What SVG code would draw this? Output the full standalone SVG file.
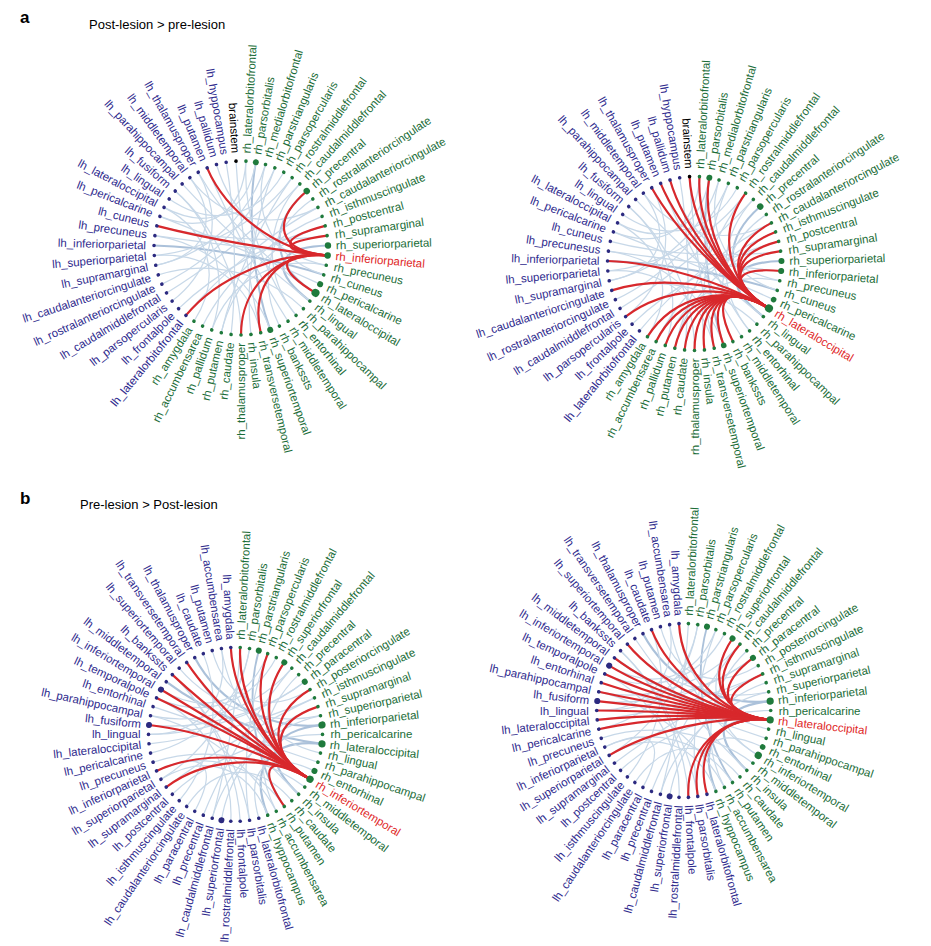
<svg xmlns="http://www.w3.org/2000/svg" xmlns:xlink="http://www.w3.org/1999/xlink" width="931" height="946" viewBox="0 0 931 946">
<style>
text{font-family:"Liberation Sans",Arial,Helvetica,sans-serif;fill:#000}
.lh text,.rh text,.bs text{font-size:11.5px;dominant-baseline:central}
.L text{text-anchor:end}
.lh text{fill:#2f2b8e}
.lh circle{fill:#2c2a80}
.rh text{fill:#1b6d38}
.rh circle{fill:#1f7a3c}
.bs circle{fill:#000}
.hl text{fill:#e0261f}
.red path{fill:none;stroke:#d8282c;stroke-width:2.2;stroke-linecap:round}
.ttl{font-size:13px}
.pl{font-size:17px;font-weight:bold}
</style>
<defs>
<g id="blueA" fill="none" stroke="#a3bfda" stroke-width="1.2" opacity="0.6">
<path d="M14.8 -85.7C5.9 -34.3 11.7 32.8 29.2 81.9" stroke="#7499c2" stroke-width="2"/>
<path d="M65.8 -57C26.3 -22.8 29.8 18 74.5 44.9" stroke="#7499c2" stroke-width="2"/>
<path d="M87 -2.5C34.8 -1 27.6 21.3 68.9 53.1" stroke="#7499c2" stroke-width="2.2"/>
<path d="M79.1 36.1C31.7 14.5 -32.4 -12.6 -81.1 -31.6"/>
<path d="M5 -86.9C2 -34.7 22 26.9 55.1 67.4"/>
<path d="M24.5 -83.5C9.8 -33.4 -34.1 6.9 -85.3 17.3"/>
<path d="M33.9 -80.1C13.5 -32.1 4 34.6 9.9 86.4"/>
<path d="M42.8 -75.8C17.1 -30.3 -28.7 -19.6 -71.8 -49.1"/>
<path d="M51.1 -70.4C20.5 -28.2 -7.9 33.9 -19.7 84.7"/>
<path d="M58.8 -64.1C23.5 -25.6 -29.8 18 -74.5 44.9"/>
<path d="M71.8 -49.1C28.7 -19.6 15.4 31.2 38.4 78.1"/>
<path d="M77 -40.6C30.8 -16.2 -20.5 -28.2 -51.1 -70.4"/>
<path d="M81.1 -31.6C32.4 -12.6 -15.4 31.2 -38.4 78.1"/>
<path d="M84.1 -22.1C33.7 -8.8 -25 24.3 -62.4 60.6"/>
<path d="M85.3 17.3C34.1 6.9 -9.8 -33.4 -24.5 -83.5"/>
<path d="M82.7 26.9C33.1 10.8 -34.8 -1 -87 -2.5" stroke="#7499c2" stroke-width="2"/>
<path d="M68.9 53.1C27.6 21.3 -23.5 -25.6 -58.8 -64.1"/>
<path d="M62.4 60.6C25 24.3 -33.1 10.8 -82.7 26.9"/>
<path d="M47 73.2C18.8 29.3 -13.5 -32.1 -33.9 -80.1"/>
<path d="M-5 -86.9C-2 -34.7 7.9 33.9 19.7 84.7"/>
<path d="M-14.8 -85.7C-5.9 -34.3 -4 34.6 -9.9 86.4"/>
<path d="M-42.8 -75.8C-17.1 -30.3 -27.6 21.3 -68.9 53.1"/>
<path d="M-65.8 -57C-26.3 -22.8 -11.7 32.8 -29.2 81.9"/>
<path d="M-77 -40.6C-30.8 -16.2 5.9 -34.3 14.8 -85.7"/>
<path d="M-84.1 -22.1C-33.7 -8.8 34.4 -5 86.1 -12.4"/>
<path d="M-86.1 -12.4C-34.4 -5 34.7 3 86.7 7.5"/>
<path d="M-86.7 7.5C-34.7 3 20.5 -28.2 51.1 -70.4"/>
<path d="M-79.1 36.1C-31.7 14.5 13.5 -32.1 33.9 -80.1"/>
<path d="M-47 73.2C-18.8 29.3 -30.8 -16.2 -77 -40.6"/>
<path d="M-55.1 67.4C-22 26.9 30.8 -16.2 77 -40.6"/>
<path d="M29.2 81.9C11.7 32.8 -34.4 -5 -86.1 -12.4"/>
<path d="M74.5 44.9C29.8 18 -17.1 -30.3 -42.8 -75.8"/>
<path d="M24.5 -83.5C9.8 -33.4 33.1 10.8 82.7 26.9"/>
<path d="M19.7 84.7C7.9 33.9 -34.7 3 -86.7 7.5"/>
<path d="M0 87C0 34.8 -26.3 -22.8 -65.8 -57"/>
<path d="M-19.7 84.7C-7.9 33.9 33.7 -8.8 84.1 -22.1"/>
<path d="M-51.1 -70.4C-20.5 -28.2 -34.1 6.9 -85.3 17.3"/>
<path d="M5 -86.9C2 -34.7 -32.4 -12.6 -81.1 -31.6"/>
<path d="M55.1 67.4C22 26.9 23.5 -25.6 58.8 -64.1"/>
<path d="M-29.2 81.9C-11.7 32.8 34.1 6.9 85.3 17.3"/>
</g>
<g id="blueB" fill="none" stroke="#a3bfda" stroke-width="1.2" opacity="0.6">
<path d="M23.3 -83.8C9.3 -33.5 19.5 28.8 48.8 72" stroke="#7499c2" stroke-width="1.8"/>
<path d="M48.8 -72C19.5 -28.8 29.8 17.9 74.6 44.9"/>
<path d="M69.3 -52.7C27.7 -21.1 -34.6 -3.8 -86.5 -9.4"/>
<path d="M86.5 -9.4C34.6 -3.8 -16.3 -30.7 -40.8 -76.9" stroke="#7499c2" stroke-width="2.2"/>
<path d="M86.5 9.4C34.6 3.8 -27.7 -21.1 -69.3 -52.7" stroke="#7499c2" stroke-width="2.2"/>
<path d="M86.5 -9.4C34.6 -3.8 25.3 23.9 63.2 59.8" stroke="#7499c2" stroke-width="2.2"/>
<path d="M86.5 9.4C34.6 3.8 12.9 32.3 32.2 80.8" stroke="#7499c2" stroke-width="2.2"/>
<path d="M14.1 -85.9C5.6 -34.3 -29.8 17.9 -74.6 44.9"/>
<path d="M32.2 -80.8C12.9 -32.3 5.6 34.3 14.1 85.9"/>
<path d="M40.8 -76.9C16.3 -30.7 -31.6 -14.6 -79 -36.5"/>
<path d="M56.3 -66.3C22.5 -26.5 -12.9 32.3 -32.2 80.8"/>
<path d="M63.2 -59.8C25.3 -23.9 16.3 30.7 40.8 76.9"/>
<path d="M74.6 -44.9C29.8 -17.9 -9.3 -33.5 -23.3 -83.8"/>
<path d="M79 -36.5C31.6 -14.6 -34.6 3.8 -86.5 9.4"/>
<path d="M82.5 -27.8C33 -11.1 -5.6 34.3 -14.1 85.9"/>
<path d="M85 -18.7C34 -7.5 -22.5 -26.5 -56.3 -66.3"/>
<path d="M87 0C34.8 0 -25.3 23.9 -63.2 59.8"/>
<path d="M85 18.7C34 7.5 -1.9 -34.7 -4.7 -86.9"/>
<path d="M82.5 27.8C33 11.1 -33 -11.1 -82.5 -27.8"/>
<path d="M79 36.5C31.6 14.6 9.3 33.5 23.3 83.8"/>
<path d="M69.3 52.7C27.7 21.1 -33 11.1 -82.5 27.8"/>
<path d="M63.2 59.8C25.3 23.9 -19.5 -28.8 -48.8 -72"/>
<path d="M56.3 66.3C22.5 26.5 -19.5 28.8 -48.8 72"/>
<path d="M4.7 -86.9C1.9 -34.7 -9.3 33.5 -23.3 83.8"/>
<path d="M-14.1 -85.9C-5.6 -34.3 -34.8 0 -87 0"/>
<path d="M-32.2 -80.8C-12.9 -32.3 -22.5 26.5 -56.3 66.3"/>
<path d="M-63.2 -59.8C-25.3 -23.9 1.9 34.7 4.7 86.9"/>
<path d="M-74.6 -44.9C-29.8 -17.9 12.9 -32.3 32.2 -80.8"/>
<path d="M-85 -18.7C-34 -7.5 22.5 -26.5 56.3 -66.3"/>
<path d="M-85 18.7C-34 7.5 5.6 -34.3 14.1 -85.9"/>
<path d="M-79 36.5C-31.6 14.6 -16.3 30.7 -40.8 76.9"/>
<path d="M-69.3 52.7C-27.7 21.1 31.6 -14.6 79 -36.5"/>
<path d="M-4.7 86.9C-1.9 34.7 -31.6 -14.6 -79 -36.5"/>
<path d="M40.8 76.9C16.3 30.7 -34 -7.5 -85 -18.7"/>
<path d="M32.2 80.8C12.9 32.3 -29.8 17.9 -74.6 44.9"/>
<path d="M-87 0C-34.8 0 27.7 -21.1 69.3 -52.7"/>
<path d="M14.1 85.9C5.6 34.3 -25.3 -23.9 -63.2 -59.8"/>
<path d="M74.6 44.9C29.8 17.9 -5.6 -34.3 -14.1 -85.9"/>
<path d="M-23.3 83.8C-9.3 33.5 34 -7.5 85 -18.7"/>
<path d="M48.8 72C19.5 28.8 -31.6 14.6 -79 36.5"/>
</g>
</defs>
<rect width="931" height="946" fill="#fff"/>
<text class="pl" x="20" y="23">a</text>
<text class="ttl" x="89" y="28.5">Post-lesion &gt; pre-lesion</text>
<text class="pl" x="20" y="504">b</text>
<text class="ttl" x="80" y="509">Pre-lesion &gt; Post-lesion</text>

<!-- Panel a left -->
<g id="panel-a-left" transform="translate(241,248)">
<g id="aL-connectors">
<use href="#blueA" xlink:href="#blueA"/>
<g class="red">
<path d="M-33.9 -80.1C-15.2 -36.1 36.4 3.1 86.7 7.5"/>
<path d="M-84.1 -22.1C-37.9 -10 36.4 3.1 86.7 7.5"/>
<path d="M-55.1 67.4C-24.8 30.3 36.4 3.1 86.7 7.5"/>
<path d="M0 87C0 39.2 36.4 3.1 86.7 7.5"/>
<path d="M19.7 84.7C8.9 38.1 36.4 3.1 86.7 7.5"/>
<path d="M74.5 44.9C33.5 20.2 36.4 3.1 86.7 7.5"/>
<path d="M65.8 -57C29.6 -25.6 36.4 3.1 86.7 7.5"/>
<path d="M84.1 -22.1C37.9 -10 36.4 3.1 86.7 7.5"/>
<path d="M86.1 -12.4C38.7 -5.6 36.4 3.1 86.7 7.5"/>
</g>
</g>
<g id="aL-nodes">
<g id="aL-brainstem" class="bs L" transform="rotate(86.73)"><circle cx="-87" r="1.8"/><text x="-95">brainstem</text></g>
<g id="aL-rh_lateralorbitofrontal" class="rh" transform="rotate(-86.73)"><circle cx="87" r="1.8"/><text x="95">rh_lateralorbitofrontal</text></g>
<g id="aL-rh_parsorbitalis" class="rh" transform="rotate(-80.18)"><circle cx="87" r="3"/><text x="95">rh_parsorbitalis</text></g>
<g id="aL-rh_medialorbitofrontal" class="rh" transform="rotate(-73.64)"><circle cx="87" r="1.8"/><text x="95">rh_medialorbitofrontal</text></g>
<g id="aL-rh_parstriangularis" class="rh" transform="rotate(-67.09)"><circle cx="87" r="1.8"/><text x="95">rh_parstriangularis</text></g>
<g id="aL-rh_parsopercularis" class="rh" transform="rotate(-60.55)"><circle cx="87" r="1.8"/><text x="95">rh_parsopercularis</text></g>
<g id="aL-rh_rostralmiddlefrontal" class="rh" transform="rotate(-54)"><circle cx="87" r="1.8"/><text x="95">rh_rostralmiddlefrontal</text></g>
<g id="aL-rh_caudalmiddlefrontal" class="rh" transform="rotate(-47.45)"><circle cx="87" r="1.8"/><text x="95">rh_caudalmiddlefrontal</text></g>
<g id="aL-rh_precentral" class="rh" transform="rotate(-40.91)"><circle cx="87" r="3.2"/><text x="95">rh_precentral</text></g>
<g id="aL-rh_rostralanteriorcingulate" class="rh" transform="rotate(-34.36)"><circle cx="87" r="1.8"/><text x="95">rh_rostralanteriorcingulate</text></g>
<g id="aL-rh_caudalanteriorcingulate" class="rh" transform="rotate(-27.82)"><circle cx="87" r="1.8"/><text x="95">rh_caudalanteriorcingulate</text></g>
<g id="aL-rh_isthmuscingulate" class="rh" transform="rotate(-21.27)"><circle cx="87" r="1.8"/><text x="95">rh_isthmuscingulate</text></g>
<g id="aL-rh_postcentral" class="rh" transform="rotate(-14.73)"><circle cx="87" r="1.8"/><text x="95">rh_postcentral</text></g>
<g id="aL-rh_supramarginal" class="rh" transform="rotate(-8.18)"><circle cx="87" r="1.8"/><text x="95">rh_supramarginal</text></g>
<g id="aL-rh_superiorparietal" class="rh" transform="rotate(-1.64)"><circle cx="87" r="3.2"/><text x="95">rh_superiorparietal</text></g>
<g id="aL-rh_inferiorparietal" class="rh hl" transform="rotate(4.91)"><circle cx="87" r="3.2"/><text x="95">rh_inferiorparietal</text></g>
<g id="aL-rh_precuneus" class="rh" transform="rotate(11.45)"><circle cx="87" r="1.8"/><text x="95">rh_precuneus</text></g>
<g id="aL-rh_cuneus" class="rh" transform="rotate(18)"><circle cx="87" r="1.8"/><text x="95">rh_cuneus</text></g>
<g id="aL-rh_pericalcarine" class="rh" transform="rotate(24.55)"><circle cx="87" r="3"/><text x="95">rh_pericalcarine</text></g>
<g id="aL-rh_lateraloccipital" class="rh" transform="rotate(31.09)"><circle cx="87" r="4"/><text x="95">rh_lateraloccipital</text></g>
<g id="aL-rh_lingual" class="rh" transform="rotate(37.64)"><circle cx="87" r="1.8"/><text x="95">rh_lingual</text></g>
<g id="aL-rh_parahippocampal" class="rh" transform="rotate(44.18)"><circle cx="87" r="1.8"/><text x="95">rh_parahippocampal</text></g>
<g id="aL-rh_entorhinal" class="rh" transform="rotate(50.73)"><circle cx="87" r="1.8"/><text x="95">rh_entorhinal</text></g>
<g id="aL-rh_middletemporal" class="rh" transform="rotate(57.27)"><circle cx="87" r="1.8"/><text x="95">rh_middletemporal</text></g>
<g id="aL-rh_bankssts" class="rh" transform="rotate(63.82)"><circle cx="87" r="1.8"/><text x="95">rh_bankssts</text></g>
<g id="aL-rh_superiortemporal" class="rh" transform="rotate(70.36)"><circle cx="87" r="3"/><text x="95">rh_superiortemporal</text></g>
<g id="aL-rh_transversetemporal" class="rh" transform="rotate(76.91)"><circle cx="87" r="1.8"/><text x="95">rh_transversetemporal</text></g>
<g id="aL-rh_insula" class="rh" transform="rotate(83.45)"><circle cx="87" r="1.8"/><text x="95">rh_insula</text></g>
<g id="aL-rh_thalamusproper" class="rh L" transform="rotate(-90)"><circle cx="-87" r="1.8"/><text x="-95">rh_thalamusproper</text></g>
<g id="aL-rh_caudate" class="rh L" transform="rotate(-83.45)"><circle cx="-87" r="1.8"/><text x="-95">rh_caudate</text></g>
<g id="aL-rh_putamen" class="rh L" transform="rotate(-76.91)"><circle cx="-87" r="1.8"/><text x="-95">rh_putamen</text></g>
<g id="aL-rh_pallidum" class="rh L" transform="rotate(-70.36)"><circle cx="-87" r="1.8"/><text x="-95">rh_pallidum</text></g>
<g id="aL-rh_accumbensarea" class="rh L" transform="rotate(-63.82)"><circle cx="-87" r="1.8"/><text x="-95">rh_accumbensarea</text></g>
<g id="aL-rh_amygdala" class="rh L" transform="rotate(-57.27)"><circle cx="-87" r="1.8"/><text x="-95">rh_amygdala</text></g>
<g id="aL-lh_lateralorbitofrontal" class="lh L" transform="rotate(-50.73)"><circle cx="-87" r="1.8"/><text x="-95">lh_lateralorbitofrontal</text></g>
<g id="aL-lh_frontalpole" class="lh L" transform="rotate(-44.18)"><circle cx="-87" r="1.8"/><text x="-95">lh_frontalpole</text></g>
<g id="aL-lh_parsopercularis" class="lh L" transform="rotate(-37.64)"><circle cx="-87" r="1.8"/><text x="-95">lh_parsopercularis</text></g>
<g id="aL-lh_caudalmiddlefrontal" class="lh L" transform="rotate(-31.09)"><circle cx="-87" r="1.8"/><text x="-95">lh_caudalmiddlefrontal</text></g>
<g id="aL-lh_rostralanteriorcingulate" class="lh L" transform="rotate(-24.55)"><circle cx="-87" r="1.8"/><text x="-95">lh_rostralanteriorcingulate</text></g>
<g id="aL-lh_caudalanteriorcingulate" class="lh L" transform="rotate(-18)"><circle cx="-87" r="1.8"/><text x="-95">lh_caudalanteriorcingulate</text></g>
<g id="aL-lh_supramarginal" class="lh L" transform="rotate(-11.45)"><circle cx="-87" r="1.8"/><text x="-95">lh_supramarginal</text></g>
<g id="aL-lh_superiorparietal" class="lh L" transform="rotate(-4.91)"><circle cx="-87" r="1.8"/><text x="-95">lh_superiorparietal</text></g>
<g id="aL-lh_inferiorparietal" class="lh L" transform="rotate(1.64)"><circle cx="-87" r="1.8"/><text x="-95">lh_inferiorparietal</text></g>
<g id="aL-lh_precuneus" class="lh L" transform="rotate(8.18)"><circle cx="-87" r="1.8"/><text x="-95">lh_precuneus</text></g>
<g id="aL-lh_cuneus" class="lh L" transform="rotate(14.73)"><circle cx="-87" r="1.8"/><text x="-95">lh_cuneus</text></g>
<g id="aL-lh_pericalcarine" class="lh L" transform="rotate(21.27)"><circle cx="-87" r="1.8"/><text x="-95">lh_pericalcarine</text></g>
<g id="aL-lh_lateraloccipital" class="lh L" transform="rotate(27.82)"><circle cx="-87" r="1.8"/><text x="-95">lh_lateraloccipital</text></g>
<g id="aL-lh_lingual" class="lh L" transform="rotate(34.36)"><circle cx="-87" r="1.8"/><text x="-95">lh_lingual</text></g>
<g id="aL-lh_fusiform" class="lh L" transform="rotate(40.91)"><circle cx="-87" r="1.8"/><text x="-95">lh_fusiform</text></g>
<g id="aL-lh_parahippocampal" class="lh L" transform="rotate(47.45)"><circle cx="-87" r="1.8"/><text x="-95">lh_parahippocampal</text></g>
<g id="aL-lh_middletemporal" class="lh L" transform="rotate(54)"><circle cx="-87" r="1.8"/><text x="-95">lh_middletemporal</text></g>
<g id="aL-lh_thalamusproper" class="lh L" transform="rotate(60.55)"><circle cx="-87" r="1.8"/><text x="-95">lh_thalamusproper</text></g>
<g id="aL-lh_putamen" class="lh L" transform="rotate(67.09)"><circle cx="-87" r="1.8"/><text x="-95">lh_putamen</text></g>
<g id="aL-lh_pallidum" class="lh L" transform="rotate(73.64)"><circle cx="-87" r="1.8"/><text x="-95">lh_pallidum</text></g>
<g id="aL-lh_hyppocampus" class="lh L" transform="rotate(80.18)"><circle cx="-87" r="1.8"/><text x="-95">lh_hyppocampus</text></g>
</g>
</g>

<!-- Panel a right -->
<g id="panel-a-right" transform="translate(694.5,263.5)">
<g id="aR-connectors">
<use href="#blueA" xlink:href="#blueA"/>
<g class="red">
<path d="M-42.8 -75.8C-19.3 -34.1 31.3 18.9 74.5 44.9"/>
<path d="M-33.9 -80.1C-15.2 -36.1 31.3 18.9 74.5 44.9"/>
<path d="M-24.5 -83.5C-11 -37.6 31.3 18.9 74.5 44.9"/>
<path d="M-5 -86.9C-2.2 -39.1 31.3 18.9 74.5 44.9"/>
<path d="M5 -86.9C2.2 -39.1 31.3 18.9 74.5 44.9"/>
<path d="M14.8 -85.7C6.7 -38.6 31.3 18.9 74.5 44.9"/>
<path d="M51.1 -70.4C23 -31.7 31.3 18.9 74.5 44.9"/>
<path d="M77 -40.6C34.6 -18.3 31.3 18.9 74.5 44.9"/>
<path d="M81.1 -31.6C36.5 -14.2 31.3 18.9 74.5 44.9"/>
<path d="M84.1 -22.1C37.9 -10 31.3 18.9 74.5 44.9"/>
<path d="M86.1 -12.4C38.7 -5.6 31.3 18.9 74.5 44.9"/>
<path d="M86.7 7.5C39 3.4 31.3 18.9 74.5 44.9"/>
<path d="M-87 -2.5C-39.1 -1.1 31.3 18.9 74.5 44.9"/>
<path d="M-82.7 26.9C-37.2 12.1 31.3 18.9 74.5 44.9"/>
<path d="M-68.9 53.1C-31 23.9 31.3 18.9 74.5 44.9"/>
<path d="M38.4 78.1C17.3 35.1 31.3 18.9 74.5 44.9"/>
<path d="M29.2 81.9C13.2 36.9 31.3 18.9 74.5 44.9"/>
<path d="M19.7 84.7C8.9 38.1 31.3 18.9 74.5 44.9"/>
<path d="M9.9 86.4C4.5 38.9 31.3 18.9 74.5 44.9"/>
<path d="M0 87C0 39.2 31.3 18.9 74.5 44.9"/>
<path d="M-9.9 86.4C-4.5 38.9 31.3 18.9 74.5 44.9"/>
<path d="M-19.7 84.7C-8.9 38.1 31.3 18.9 74.5 44.9"/>
<path d="M-29.2 81.9C-13.2 36.9 31.3 18.9 74.5 44.9"/>
<path d="M-38.4 78.1C-17.3 35.1 31.3 18.9 74.5 44.9"/>
<path d="M-47 73.2C-21.2 32.9 31.3 18.9 74.5 44.9"/>
</g>
</g>
<g id="aR-nodes">
<g id="aR-brainstem" class="bs L" transform="rotate(86.73)"><circle cx="-87" r="1.8"/><text x="-95">brainstem</text></g>
<g id="aR-rh_lateralorbitofrontal" class="rh" transform="rotate(-86.73)"><circle cx="87" r="1.8"/><text x="95">rh_lateralorbitofrontal</text></g>
<g id="aR-rh_parsorbitalis" class="rh" transform="rotate(-80.18)"><circle cx="87" r="3"/><text x="95">rh_parsorbitalis</text></g>
<g id="aR-rh_medialorbitofrontal" class="rh" transform="rotate(-73.64)"><circle cx="87" r="1.8"/><text x="95">rh_medialorbitofrontal</text></g>
<g id="aR-rh_parstriangularis" class="rh" transform="rotate(-67.09)"><circle cx="87" r="1.8"/><text x="95">rh_parstriangularis</text></g>
<g id="aR-rh_parsopercularis" class="rh" transform="rotate(-60.55)"><circle cx="87" r="1.8"/><text x="95">rh_parsopercularis</text></g>
<g id="aR-rh_rostralmiddlefrontal" class="rh" transform="rotate(-54)"><circle cx="87" r="1.8"/><text x="95">rh_rostralmiddlefrontal</text></g>
<g id="aR-rh_caudalmiddlefrontal" class="rh" transform="rotate(-47.45)"><circle cx="87" r="1.8"/><text x="95">rh_caudalmiddlefrontal</text></g>
<g id="aR-rh_precentral" class="rh" transform="rotate(-40.91)"><circle cx="87" r="3.2"/><text x="95">rh_precentral</text></g>
<g id="aR-rh_rostralanteriorcingulate" class="rh" transform="rotate(-34.36)"><circle cx="87" r="1.8"/><text x="95">rh_rostralanteriorcingulate</text></g>
<g id="aR-rh_caudalanteriorcingulate" class="rh" transform="rotate(-27.82)"><circle cx="87" r="1.8"/><text x="95">rh_caudalanteriorcingulate</text></g>
<g id="aR-rh_isthmuscingulate" class="rh" transform="rotate(-21.27)"><circle cx="87" r="1.8"/><text x="95">rh_isthmuscingulate</text></g>
<g id="aR-rh_postcentral" class="rh" transform="rotate(-14.73)"><circle cx="87" r="1.8"/><text x="95">rh_postcentral</text></g>
<g id="aR-rh_supramarginal" class="rh" transform="rotate(-8.18)"><circle cx="87" r="1.8"/><text x="95">rh_supramarginal</text></g>
<g id="aR-rh_superiorparietal" class="rh" transform="rotate(-1.64)"><circle cx="87" r="3"/><text x="95">rh_superiorparietal</text></g>
<g id="aR-rh_inferiorparietal" class="rh" transform="rotate(4.91)"><circle cx="87" r="3"/><text x="95">rh_inferiorparietal</text></g>
<g id="aR-rh_precuneus" class="rh" transform="rotate(11.45)"><circle cx="87" r="1.8"/><text x="95">rh_precuneus</text></g>
<g id="aR-rh_cuneus" class="rh" transform="rotate(18)"><circle cx="87" r="1.8"/><text x="95">rh_cuneus</text></g>
<g id="aR-rh_pericalcarine" class="rh" transform="rotate(24.55)"><circle cx="87" r="2.8"/><text x="95">rh_pericalcarine</text></g>
<g id="aR-rh_lateraloccipital" class="rh hl" transform="rotate(31.09)"><circle cx="87" r="4"/><text x="95">rh_lateraloccipital</text></g>
<g id="aR-rh_lingual" class="rh" transform="rotate(37.64)"><circle cx="87" r="1.8"/><text x="95">rh_lingual</text></g>
<g id="aR-rh_parahippocampal" class="rh" transform="rotate(44.18)"><circle cx="87" r="1.8"/><text x="95">rh_parahippocampal</text></g>
<g id="aR-rh_entorhinal" class="rh" transform="rotate(50.73)"><circle cx="87" r="1.8"/><text x="95">rh_entorhinal</text></g>
<g id="aR-rh_middletemporal" class="rh" transform="rotate(57.27)"><circle cx="87" r="1.8"/><text x="95">rh_middletemporal</text></g>
<g id="aR-rh_bankssts" class="rh" transform="rotate(63.82)"><circle cx="87" r="1.8"/><text x="95">rh_bankssts</text></g>
<g id="aR-rh_superiortemporal" class="rh" transform="rotate(70.36)"><circle cx="87" r="2.8"/><text x="95">rh_superiortemporal</text></g>
<g id="aR-rh_transversetemporal" class="rh" transform="rotate(76.91)"><circle cx="87" r="1.8"/><text x="95">rh_transversetemporal</text></g>
<g id="aR-rh_insula" class="rh" transform="rotate(83.45)"><circle cx="87" r="1.8"/><text x="95">rh_insula</text></g>
<g id="aR-rh_thalamusproper" class="rh L" transform="rotate(-90)"><circle cx="-87" r="1.8"/><text x="-95">rh_thalamusproper</text></g>
<g id="aR-rh_caudate" class="rh L" transform="rotate(-83.45)"><circle cx="-87" r="1.8"/><text x="-95">rh_caudate</text></g>
<g id="aR-rh_putamen" class="rh L" transform="rotate(-76.91)"><circle cx="-87" r="1.8"/><text x="-95">rh_putamen</text></g>
<g id="aR-rh_pallidum" class="rh L" transform="rotate(-70.36)"><circle cx="-87" r="1.8"/><text x="-95">rh_pallidum</text></g>
<g id="aR-rh_accumbensarea" class="rh L" transform="rotate(-63.82)"><circle cx="-87" r="1.8"/><text x="-95">rh_accumbensarea</text></g>
<g id="aR-rh_amygdala" class="rh L" transform="rotate(-57.27)"><circle cx="-87" r="1.8"/><text x="-95">rh_amygdala</text></g>
<g id="aR-lh_lateralorbitofrontal" class="lh L" transform="rotate(-50.73)"><circle cx="-87" r="1.8"/><text x="-95">lh_lateralorbitofrontal</text></g>
<g id="aR-lh_frontalpole" class="lh L" transform="rotate(-44.18)"><circle cx="-87" r="1.8"/><text x="-95">lh_frontalpole</text></g>
<g id="aR-lh_parsopercularis" class="lh L" transform="rotate(-37.64)"><circle cx="-87" r="1.8"/><text x="-95">lh_parsopercularis</text></g>
<g id="aR-lh_caudalmiddlefrontal" class="lh L" transform="rotate(-31.09)"><circle cx="-87" r="1.8"/><text x="-95">lh_caudalmiddlefrontal</text></g>
<g id="aR-lh_rostralanteriorcingulate" class="lh L" transform="rotate(-24.55)"><circle cx="-87" r="1.8"/><text x="-95">lh_rostralanteriorcingulate</text></g>
<g id="aR-lh_caudalanteriorcingulate" class="lh L" transform="rotate(-18)"><circle cx="-87" r="1.8"/><text x="-95">lh_caudalanteriorcingulate</text></g>
<g id="aR-lh_supramarginal" class="lh L" transform="rotate(-11.45)"><circle cx="-87" r="1.8"/><text x="-95">lh_supramarginal</text></g>
<g id="aR-lh_superiorparietal" class="lh L" transform="rotate(-4.91)"><circle cx="-87" r="1.8"/><text x="-95">lh_superiorparietal</text></g>
<g id="aR-lh_inferiorparietal" class="lh L" transform="rotate(1.64)"><circle cx="-87" r="1.8"/><text x="-95">lh_inferiorparietal</text></g>
<g id="aR-lh_precunesus" class="lh L" transform="rotate(8.18)"><circle cx="-87" r="1.8"/><text x="-95">lh_precunesus</text></g>
<g id="aR-lh_cuneus" class="lh L" transform="rotate(14.73)"><circle cx="-87" r="1.8"/><text x="-95">lh_cuneus</text></g>
<g id="aR-lh_pericalcarine" class="lh L" transform="rotate(21.27)"><circle cx="-87" r="1.8"/><text x="-95">lh_pericalcarine</text></g>
<g id="aR-lh_lateraloccipital" class="lh L" transform="rotate(27.82)"><circle cx="-87" r="1.8"/><text x="-95">lh_lateraloccipital</text></g>
<g id="aR-lh_lingual" class="lh L" transform="rotate(34.36)"><circle cx="-87" r="1.8"/><text x="-95">lh_lingual</text></g>
<g id="aR-lh_fusiform" class="lh L" transform="rotate(40.91)"><circle cx="-87" r="1.8"/><text x="-95">lh_fusiform</text></g>
<g id="aR-lh_parahippocampal" class="lh L" transform="rotate(47.45)"><circle cx="-87" r="1.8"/><text x="-95">lh_parahippocampal</text></g>
<g id="aR-lh_middletemporal" class="lh L" transform="rotate(54)"><circle cx="-87" r="1.8"/><text x="-95">lh_middletemporal</text></g>
<g id="aR-lh_thalamusproper" class="lh L" transform="rotate(60.55)"><circle cx="-87" r="1.8"/><text x="-95">lh_thalamusproper</text></g>
<g id="aR-lh_putamen" class="lh L" transform="rotate(67.09)"><circle cx="-87" r="1.8"/><text x="-95">lh_putamen</text></g>
<g id="aR-lh_pallidum" class="lh L" transform="rotate(73.64)"><circle cx="-87" r="1.8"/><text x="-95">lh_pallidum</text></g>
<g id="aR-lh_hyppocampus" class="lh L" transform="rotate(80.18)"><circle cx="-87" r="1.8"/><text x="-95">lh_hyppocampus</text></g>
</g>
</g>

<!-- Panel b left -->
<g id="panel-b-left" transform="translate(235.5,734.4)">
<g id="bL-connectors">
<use href="#blueB" xlink:href="#blueB"/>
<g class="red">
<path d="M-4.7 -86.9C-2.1 -39.1 31.3 18.8 74.6 44.9"/>
<path d="M4.7 -86.9C2.1 -39.1 31.3 18.8 74.6 44.9"/>
<path d="M32.2 -80.8C14.5 -36.4 31.3 18.8 74.6 44.9"/>
<path d="M48.8 -72C22 -32.4 31.3 18.8 74.6 44.9"/>
<path d="M74.6 -44.9C33.5 -20.2 31.3 18.8 74.6 44.9"/>
<path d="M82.5 -27.8C37.1 -12.5 31.3 18.8 74.6 44.9"/>
<path d="M48.8 72C22 32.4 31.3 18.8 74.6 44.9"/>
<path d="M-48.8 -72C-22 -32.4 31.3 18.8 74.6 44.9"/>
<path d="M-63.2 -59.8C-28.4 -26.9 31.3 18.8 74.6 44.9"/>
<path d="M-74.6 -44.9C-33.5 -20.2 31.3 18.8 74.6 44.9"/>
<path d="M-79 -36.5C-35.5 -16.4 31.3 18.8 74.6 44.9"/>
<path d="M-86.5 -9.4C-38.9 -4.2 31.3 18.8 74.6 44.9"/>
<path d="M-79 36.5C-35.5 16.4 31.3 18.8 74.6 44.9"/>
<path d="M-69.3 52.7C-31.2 23.7 31.3 18.8 74.6 44.9"/>
</g>
</g>
<g id="bL-nodes">
<g id="bL-rh_lateralorbitofrontal" class="rh" transform="rotate(-86.9)"><circle cx="87" r="1.8"/><text x="95">rh_lateralorbitofrontal</text></g>
<g id="bL-rh_parsorbitalis" class="rh" transform="rotate(-80.69)"><circle cx="87" r="1.8"/><text x="95">rh_parsorbitalis</text></g>
<g id="bL-rh_parstriangularis" class="rh" transform="rotate(-74.48)"><circle cx="87" r="3"/><text x="95">rh_parstriangularis</text></g>
<g id="bL-rh_parsopercularis" class="rh" transform="rotate(-68.28)"><circle cx="87" r="1.8"/><text x="95">rh_parsopercularis</text></g>
<g id="bL-rh_rostralmiddlefrontal" class="rh" transform="rotate(-62.07)"><circle cx="87" r="1.8"/><text x="95">rh_rostralmiddlefrontal</text></g>
<g id="bL-rh_superiorfrontal" class="rh" transform="rotate(-55.86)"><circle cx="87" r="3"/><text x="95">rh_superiorfrontal</text></g>
<g id="bL-rh_caudalmiddlefrontal" class="rh" transform="rotate(-49.66)"><circle cx="87" r="1.8"/><text x="95">rh_caudalmiddlefrontal</text></g>
<g id="bL-rh_precentral" class="rh" transform="rotate(-43.45)"><circle cx="87" r="1.8"/><text x="95">rh_precentral</text></g>
<g id="bL-rh_paracentral" class="rh" transform="rotate(-37.24)"><circle cx="87" r="3"/><text x="95">rh_paracentral</text></g>
<g id="bL-rh_posteriorcingulate" class="rh" transform="rotate(-31.03)"><circle cx="87" r="1.8"/><text x="95">rh_posteriorcingulate</text></g>
<g id="bL-rh_isthmuscingulate" class="rh" transform="rotate(-24.83)"><circle cx="87" r="1.8"/><text x="95">rh_isthmuscingulate</text></g>
<g id="bL-rh_supramarginal" class="rh" transform="rotate(-18.62)"><circle cx="87" r="1.8"/><text x="95">rh_supramarginal</text></g>
<g id="bL-rh_superiorparietal" class="rh" transform="rotate(-12.41)"><circle cx="87" r="1.8"/><text x="95">rh_superiorparietal</text></g>
<g id="bL-rh_inferiorparietal" class="rh" transform="rotate(-6.21)"><circle cx="87" r="3.6"/><text x="95">rh_inferiorparietal</text></g>
<g id="bL-rh_pericalcarine" class="rh" transform="rotate(0)"><circle cx="87" r="1.8"/><text x="95">rh_pericalcarine</text></g>
<g id="bL-rh_lateraloccipital" class="rh" transform="rotate(6.21)"><circle cx="87" r="3.6"/><text x="95">rh_lateraloccipital</text></g>
<g id="bL-rh_lingual" class="rh" transform="rotate(12.41)"><circle cx="87" r="1.8"/><text x="95">rh_lingual</text></g>
<g id="bL-rh_parahippocampal" class="rh" transform="rotate(18.62)"><circle cx="87" r="1.8"/><text x="95">rh_parahippocampal</text></g>
<g id="bL-rh_entorhinal" class="rh" transform="rotate(24.83)"><circle cx="87" r="3"/><text x="95">rh_entorhinal</text></g>
<g id="bL-rh_inferiortemporal" class="rh hl" transform="rotate(31.03)"><circle cx="87" r="3.6"/><text x="95">rh_inferiortemporal</text></g>
<g id="bL-rh_middletemporal" class="rh" transform="rotate(37.24)"><circle cx="87" r="1.8"/><text x="95">rh_middletemporal</text></g>
<g id="bL-rh_insula" class="rh" transform="rotate(43.45)"><circle cx="87" r="1.8"/><text x="95">rh_insula</text></g>
<g id="bL-rh_caudate" class="rh" transform="rotate(49.66)"><circle cx="87" r="1.8"/><text x="95">rh_caudate</text></g>
<g id="bL-rh_putamen" class="rh" transform="rotate(55.86)"><circle cx="87" r="1.8"/><text x="95">rh_putamen</text></g>
<g id="bL-rh_accumbensarea" class="rh" transform="rotate(62.07)"><circle cx="87" r="1.8"/><text x="95">rh_accumbensarea</text></g>
<g id="bL-rh_hyppocampus" class="rh" transform="rotate(68.28)"><circle cx="87" r="1.8"/><text x="95">rh_hyppocampus</text></g>
<g id="bL-lh_lateralorbitofrontal" class="lh" transform="rotate(74.48)"><circle cx="87" r="1.8"/><text x="95">lh_lateralorbitofrontal</text></g>
<g id="bL-lh_parsorbitalis" class="lh" transform="rotate(80.69)"><circle cx="87" r="1.8"/><text x="95">lh_parsorbitalis</text></g>
<g id="bL-lh_frontalpole" class="lh" transform="rotate(86.9)"><circle cx="87" r="1.8"/><text x="95">lh_frontalpole</text></g>
<g id="bL-lh_rostralmiddlefrontal" class="lh L" transform="rotate(-86.9)"><circle cx="-87" r="1.8"/><text x="-95">lh_rostralmiddlefrontal</text></g>
<g id="bL-lh_superiorfrontal" class="lh L" transform="rotate(-80.69)"><circle cx="-87" r="3"/><text x="-95">lh_superiorfrontal</text></g>
<g id="bL-lh_caudalmiddlefrontal" class="lh L" transform="rotate(-74.48)"><circle cx="-87" r="1.8"/><text x="-95">lh_caudalmiddlefrontal</text></g>
<g id="bL-lh_precentral" class="lh L" transform="rotate(-68.28)"><circle cx="-87" r="1.8"/><text x="-95">lh_precentral</text></g>
<g id="bL-lh_paracentral" class="lh L" transform="rotate(-62.07)"><circle cx="-87" r="1.8"/><text x="-95">lh_paracentral</text></g>
<g id="bL-lh_caudalanteriorcingulate" class="lh L" transform="rotate(-55.86)"><circle cx="-87" r="1.8"/><text x="-95">lh_caudalanteriorcingulate</text></g>
<g id="bL-lh_isthmuscingulate" class="lh L" transform="rotate(-49.66)"><circle cx="-87" r="1.8"/><text x="-95">lh_isthmuscingulate</text></g>
<g id="bL-lh_postcentral" class="lh L" transform="rotate(-43.45)"><circle cx="-87" r="1.8"/><text x="-95">lh_postcentral</text></g>
<g id="bL-lh_supramarginal" class="lh L" transform="rotate(-37.24)"><circle cx="-87" r="1.8"/><text x="-95">lh_supramarginal</text></g>
<g id="bL-lh_superiorparietal" class="lh L" transform="rotate(-31.03)"><circle cx="-87" r="1.8"/><text x="-95">lh_superiorparietal</text></g>
<g id="bL-lh_inferiorparietal" class="lh L" transform="rotate(-24.83)"><circle cx="-87" r="1.8"/><text x="-95">lh_inferiorparietal</text></g>
<g id="bL-lh_precuneus" class="lh L" transform="rotate(-18.62)"><circle cx="-87" r="1.8"/><text x="-95">lh_precuneus</text></g>
<g id="bL-lh_pericalcarine" class="lh L" transform="rotate(-12.41)"><circle cx="-87" r="1.8"/><text x="-95">lh_pericalcarine</text></g>
<g id="bL-lh_lateraloccipital" class="lh L" transform="rotate(-6.21)"><circle cx="-87" r="1.8"/><text x="-95">lh_lateraloccipital</text></g>
<g id="bL-lh_lingual" class="lh L" transform="rotate(0)"><circle cx="-87" r="1.8"/><text x="-95">lh_lingual</text></g>
<g id="bL-lh_fusiform" class="lh L" transform="rotate(6.21)"><circle cx="-87" r="3"/><text x="-95">lh_fusiform</text></g>
<g id="bL-lh_parahippocampal" class="lh L" transform="rotate(12.41)"><circle cx="-87" r="1.8"/><text x="-95">lh_parahippocampal</text></g>
<g id="bL-lh_entorhinal" class="lh L" transform="rotate(18.62)"><circle cx="-87" r="1.8"/><text x="-95">lh_entorhinal</text></g>
<g id="bL-lh_temporalpole" class="lh L" transform="rotate(24.83)"><circle cx="-87" r="1.8"/><text x="-95">lh_temporalpole</text></g>
<g id="bL-lh_inferiortemporal" class="lh L" transform="rotate(31.03)"><circle cx="-87" r="3"/><text x="-95">lh_inferiortemporal</text></g>
<g id="bL-lh_middletemporal" class="lh L" transform="rotate(37.24)"><circle cx="-87" r="1.8"/><text x="-95">lh_middletemporal</text></g>
<g id="bL-lh_bankssts" class="lh L" transform="rotate(43.45)"><circle cx="-87" r="1.8"/><text x="-95">lh_bankssts</text></g>
<g id="bL-lh_superiortemporal" class="lh L" transform="rotate(49.66)"><circle cx="-87" r="1.8"/><text x="-95">lh_superiortemporal</text></g>
<g id="bL-lh_transversetemporal" class="lh L" transform="rotate(55.86)"><circle cx="-87" r="1.8"/><text x="-95">lh_transversetemporal</text></g>
<g id="bL-lh_thalamusproper" class="lh L" transform="rotate(62.07)"><circle cx="-87" r="1.8"/><text x="-95">lh_thalamusproper</text></g>
<g id="bL-lh_caudate" class="lh L" transform="rotate(68.28)"><circle cx="-87" r="1.8"/><text x="-95">lh_caudate</text></g>
<g id="bL-lh_putamen" class="lh L" transform="rotate(74.48)"><circle cx="-87" r="1.8"/><text x="-95">lh_putamen</text></g>
<g id="bL-lh_accumbensarea" class="lh L" transform="rotate(80.69)"><circle cx="-87" r="1.8"/><text x="-95">lh_accumbensarea</text></g>
<g id="bL-lh_amygdala" class="lh L" transform="rotate(86.9)"><circle cx="-87" r="1.8"/><text x="-95">lh_amygdala</text></g>
</g>
</g>

<!-- Panel b right -->
<g id="panel-b-right" transform="translate(683.7,710.5)">
<g id="bR-connectors">
<use href="#blueB" xlink:href="#blueB"/>
<g class="red">
<path d="M-4.7 -86.9C-2.1 -39.1 36.3 4 86.5 9.4"/>
<path d="M-32.2 -80.8C-14.5 -36.4 36.3 4 86.5 9.4"/>
<path d="M-56.3 -66.3C-25.3 -29.8 36.3 4 86.5 9.4"/>
<path d="M-69.3 -52.7C-31.2 -23.7 36.3 4 86.5 9.4"/>
<path d="M-74.6 -44.9C-33.5 -20.2 36.3 4 86.5 9.4"/>
<path d="M-79 -36.5C-35.5 -16.4 36.3 4 86.5 9.4"/>
<path d="M-82.5 -27.8C-37.1 -12.5 36.3 4 86.5 9.4"/>
<path d="M-85 -18.7C-38.2 -8.4 36.3 4 86.5 9.4"/>
<path d="M-86.5 -9.4C-38.9 -4.2 36.3 4 86.5 9.4"/>
<path d="M-87 0C-39.2 0 36.3 4 86.5 9.4"/>
<path d="M-86.5 9.4C-38.9 4.2 36.3 4 86.5 9.4"/>
<path d="M-85 18.7C-38.2 8.4 36.3 4 86.5 9.4"/>
<path d="M-74.6 44.9C-33.5 20.2 36.3 4 86.5 9.4"/>
<path d="M48.8 -72C22 -32.4 36.3 4 86.5 9.4"/>
<path d="M56.3 -66.3C25.3 -29.8 36.3 4 86.5 9.4"/>
<path d="M69.3 -52.7C31.2 -23.7 36.3 4 86.5 9.4"/>
<path d="M79 -36.5C35.5 -16.4 36.3 4 86.5 9.4"/>
<path d="M4.7 86.9C2.1 39.1 36.3 4 86.5 9.4"/>
<path d="M14.1 85.9C6.3 38.6 36.3 4 86.5 9.4"/>
<path d="M23.3 83.8C10.5 37.7 36.3 4 86.5 9.4"/>
</g>
</g>
<g id="bR-nodes">
<g id="bR-rh_lateralorbitofrontal" class="rh" transform="rotate(-86.9)"><circle cx="87" r="1.8"/><text x="95">rh_lateralorbitofrontal</text></g>
<g id="bR-rh_parsorbitalis" class="rh" transform="rotate(-80.69)"><circle cx="87" r="1.8"/><text x="95">rh_parsorbitalis</text></g>
<g id="bR-rh_parstriangularis" class="rh" transform="rotate(-74.48)"><circle cx="87" r="3"/><text x="95">rh_parstriangularis</text></g>
<g id="bR-rh_parsopercularis" class="rh" transform="rotate(-68.28)"><circle cx="87" r="1.8"/><text x="95">rh_parsopercularis</text></g>
<g id="bR-rh_rostralmiddlefrontal" class="rh" transform="rotate(-62.07)"><circle cx="87" r="1.8"/><text x="95">rh_rostralmiddlefrontal</text></g>
<g id="bR-rh_superiorfrontal" class="rh" transform="rotate(-55.86)"><circle cx="87" r="3"/><text x="95">rh_superiorfrontal</text></g>
<g id="bR-rh_caudalmiddlefrontal" class="rh" transform="rotate(-49.66)"><circle cx="87" r="1.8"/><text x="95">rh_caudalmiddlefrontal</text></g>
<g id="bR-rh_precentral" class="rh" transform="rotate(-43.45)"><circle cx="87" r="1.8"/><text x="95">rh_precentral</text></g>
<g id="bR-rh_paracentral" class="rh" transform="rotate(-37.24)"><circle cx="87" r="3"/><text x="95">rh_paracentral</text></g>
<g id="bR-rh_posteriorcingulate" class="rh" transform="rotate(-31.03)"><circle cx="87" r="1.8"/><text x="95">rh_posteriorcingulate</text></g>
<g id="bR-rh_isthmuscingulate" class="rh" transform="rotate(-24.83)"><circle cx="87" r="1.8"/><text x="95">rh_isthmuscingulate</text></g>
<g id="bR-rh_supramarginal" class="rh" transform="rotate(-18.62)"><circle cx="87" r="1.8"/><text x="95">rh_supramarginal</text></g>
<g id="bR-rh_superiorparietal" class="rh" transform="rotate(-12.41)"><circle cx="87" r="1.8"/><text x="95">rh_superiorparietal</text></g>
<g id="bR-rh_inferiorparietal" class="rh" transform="rotate(-6.21)"><circle cx="87" r="3.6"/><text x="95">rh_inferiorparietal</text></g>
<g id="bR-rh_pericalcarine" class="rh" transform="rotate(0)"><circle cx="87" r="1.8"/><text x="95">rh_pericalcarine</text></g>
<g id="bR-rh_lateraloccipital" class="rh hl" transform="rotate(6.21)"><circle cx="87" r="3.6"/><text x="95">rh_lateraloccipital</text></g>
<g id="bR-rh_lingual" class="rh" transform="rotate(12.41)"><circle cx="87" r="1.8"/><text x="95">rh_lingual</text></g>
<g id="bR-rh_parahippocampal" class="rh" transform="rotate(18.62)"><circle cx="87" r="1.8"/><text x="95">rh_parahippocampal</text></g>
<g id="bR-rh_entorhinal" class="rh" transform="rotate(24.83)"><circle cx="87" r="2.8"/><text x="95">rh_entorhinal</text></g>
<g id="bR-rh_inferiortemporal" class="rh" transform="rotate(31.03)"><circle cx="87" r="3.6"/><text x="95">rh_inferiortemporal</text></g>
<g id="bR-rh_middletemporal" class="rh" transform="rotate(37.24)"><circle cx="87" r="1.8"/><text x="95">rh_middletemporal</text></g>
<g id="bR-rh_insula" class="rh" transform="rotate(43.45)"><circle cx="87" r="1.8"/><text x="95">rh_insula</text></g>
<g id="bR-rh_caudate" class="rh" transform="rotate(49.66)"><circle cx="87" r="1.8"/><text x="95">rh_caudate</text></g>
<g id="bR-rh_putamen" class="rh" transform="rotate(55.86)"><circle cx="87" r="1.8"/><text x="95">rh_putamen</text></g>
<g id="bR-rh_accumbensarea" class="rh" transform="rotate(62.07)"><circle cx="87" r="1.8"/><text x="95">rh_accumbensarea</text></g>
<g id="bR-rh_hyppocampus" class="rh" transform="rotate(68.28)"><circle cx="87" r="1.8"/><text x="95">rh_hyppocampus</text></g>
<g id="bR-lh_lateralorbitofrontal" class="lh" transform="rotate(74.48)"><circle cx="87" r="1.8"/><text x="95">lh_lateralorbitofrontal</text></g>
<g id="bR-lh_parsorbitalis" class="lh" transform="rotate(80.69)"><circle cx="87" r="1.8"/><text x="95">lh_parsorbitalis</text></g>
<g id="bR-lh_frontalpole" class="lh" transform="rotate(86.9)"><circle cx="87" r="1.8"/><text x="95">lh_frontalpole</text></g>
<g id="bR-lh_rostralmiddlefrontal" class="lh L" transform="rotate(-86.9)"><circle cx="-87" r="1.8"/><text x="-95">lh_rostralmiddlefrontal</text></g>
<g id="bR-lh_superiorfrontal" class="lh L" transform="rotate(-80.69)"><circle cx="-87" r="3"/><text x="-95">lh_superiorfrontal</text></g>
<g id="bR-lh_caudalmiddlefrontal" class="lh L" transform="rotate(-74.48)"><circle cx="-87" r="1.8"/><text x="-95">lh_caudalmiddlefrontal</text></g>
<g id="bR-lh_precentral" class="lh L" transform="rotate(-68.28)"><circle cx="-87" r="1.8"/><text x="-95">lh_precentral</text></g>
<g id="bR-lh_paracentral" class="lh L" transform="rotate(-62.07)"><circle cx="-87" r="1.8"/><text x="-95">lh_paracentral</text></g>
<g id="bR-lh_caudalanteriorcingulate" class="lh L" transform="rotate(-55.86)"><circle cx="-87" r="1.8"/><text x="-95">lh_caudalanteriorcingulate</text></g>
<g id="bR-lh_isthmuscingulate" class="lh L" transform="rotate(-49.66)"><circle cx="-87" r="1.8"/><text x="-95">lh_isthmuscingulate</text></g>
<g id="bR-lh_postcentral" class="lh L" transform="rotate(-43.45)"><circle cx="-87" r="1.8"/><text x="-95">lh_postcentral</text></g>
<g id="bR-lh_supramarginal" class="lh L" transform="rotate(-37.24)"><circle cx="-87" r="1.8"/><text x="-95">lh_supramarginal</text></g>
<g id="bR-lh_superiorparietal" class="lh L" transform="rotate(-31.03)"><circle cx="-87" r="1.8"/><text x="-95">lh_superiorparietal</text></g>
<g id="bR-lh_inferiorparietal" class="lh L" transform="rotate(-24.83)"><circle cx="-87" r="1.8"/><text x="-95">lh_inferiorparietal</text></g>
<g id="bR-lh_precuneus" class="lh L" transform="rotate(-18.62)"><circle cx="-87" r="1.8"/><text x="-95">lh_precuneus</text></g>
<g id="bR-lh_pericalcarine" class="lh L" transform="rotate(-12.41)"><circle cx="-87" r="1.8"/><text x="-95">lh_pericalcarine</text></g>
<g id="bR-lh_lateraloccipital" class="lh L" transform="rotate(-6.21)"><circle cx="-87" r="1.8"/><text x="-95">lh_lateraloccipital</text></g>
<g id="bR-lh_lingual" class="lh L" transform="rotate(0)"><circle cx="-87" r="1.8"/><text x="-95">lh_lingual</text></g>
<g id="bR-lh_fusiform" class="lh L" transform="rotate(6.21)"><circle cx="-87" r="3"/><text x="-95">lh_fusiform</text></g>
<g id="bR-lh_parahippocampal" class="lh L" transform="rotate(12.41)"><circle cx="-87" r="1.8"/><text x="-95">lh_parahippocampal</text></g>
<g id="bR-lh_entorhinal" class="lh L" transform="rotate(18.62)"><circle cx="-87" r="1.8"/><text x="-95">lh_entorhinal</text></g>
<g id="bR-lh_temporalpole" class="lh L" transform="rotate(24.83)"><circle cx="-87" r="1.8"/><text x="-95">lh_temporalpole</text></g>
<g id="bR-lh_inferiortemporal" class="lh L" transform="rotate(31.03)"><circle cx="-87" r="3"/><text x="-95">lh_inferiortemporal</text></g>
<g id="bR-lh_middletemporal" class="lh L" transform="rotate(37.24)"><circle cx="-87" r="1.8"/><text x="-95">lh_middletemporal</text></g>
<g id="bR-lh_bankssts" class="lh L" transform="rotate(43.45)"><circle cx="-87" r="1.8"/><text x="-95">lh_bankssts</text></g>
<g id="bR-lh_superiortemporal" class="lh L" transform="rotate(49.66)"><circle cx="-87" r="1.8"/><text x="-95">lh_superiortemporal</text></g>
<g id="bR-lh_transversetemporal" class="lh L" transform="rotate(55.86)"><circle cx="-87" r="1.8"/><text x="-95">lh_transversetemporal</text></g>
<g id="bR-lh_thalamusproper" class="lh L" transform="rotate(62.07)"><circle cx="-87" r="1.8"/><text x="-95">lh_thalamusproper</text></g>
<g id="bR-lh_caudate" class="lh L" transform="rotate(68.28)"><circle cx="-87" r="1.8"/><text x="-95">lh_caudate</text></g>
<g id="bR-lh_putamen" class="lh L" transform="rotate(74.48)"><circle cx="-87" r="1.8"/><text x="-95">lh_putamen</text></g>
<g id="bR-lh_accumbensarea" class="lh L" transform="rotate(80.69)"><circle cx="-87" r="1.8"/><text x="-95">lh_accumbensarea</text></g>
<g id="bR-lh_amygdala" class="lh L" transform="rotate(86.9)"><circle cx="-87" r="1.8"/><text x="-95">lh_amygdala</text></g>
</g>
</g>
</svg>
